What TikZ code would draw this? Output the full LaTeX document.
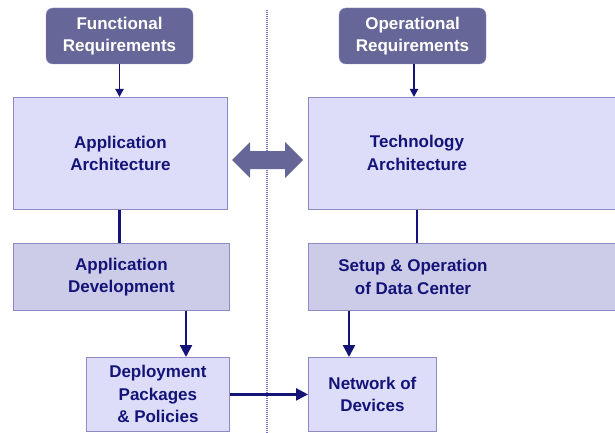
\documentclass[tikz,border=0pt]{standalone}
\usepackage{fontspec}
\setmainfont{Liberation Sans}
\usetikzlibrary{arrows.meta}
\definecolor{navy}{RGB}{20,20,120}
\definecolor{darkbox}{RGB}{102,102,153}
\definecolor{lightbox}{RGB}{221,221,250}
\definecolor{midbox}{RGB}{204,204,232}
\definecolor{boxline}{RGB}{140,140,195}

\begin{document}
\begin{tikzpicture}[x=1pt,y=-1pt,
    req/.style={rectangle, rounded corners=7pt, fill=darkbox, draw=boxline,
        minimum width=147pt, minimum height=56pt, text=white},
    lbox/.style={rectangle, fill=lightbox, draw=boxline, line width=0.8pt, inner sep=0pt},
    mbox/.style={rectangle, fill=midbox, draw=boxline, line width=0.8pt, inner sep=0pt},
    txt/.style={align=center, font=\bfseries\fontsize{17}{22.5}\selectfont, text=navy},
    arr/.style={draw=navy, line width=2.4pt, -{Triangle[width=12pt,length=12pt]}},
    thinarr/.style={draw=navy, line width=1.8pt, -{Triangle[width=8pt,length=8pt]}}]
    \useasboundingbox (0,0) rectangle (615,433);
    % divider
    \draw[boxline!80!navy, line width=1.2pt, dash pattern=on 1pt off 1pt] (267,10) -- (267,433);
    % requirements
    \node[req, txt, text=white] (freq) at (119.5,36) {Functional\\Requirements};
    \node[req, txt, text=white] (oreq) at (412.5,36) {Operational\\Requirements};
    % architecture
    \node[lbox, minimum width=214pt, minimum height=112pt, anchor=north west] (apparch) at (13,97) {};
    \node[txt] (apptxt) at (apparch.center) {Application\\Architecture};
    \node[lbox, minimum width=312pt, minimum height=112pt, anchor=north west] (techarch) at (308,97) {};
    \node[txt] (techtxt) at (417,153) {Technology\\Architecture};
    % both-ways arrow between the architectures
    \fill[darkbox] (232,160) -- (250,142) -- (250,151) -- (285,151) -- (285,142) -- (303,160)
        -- (285,178) -- (285,169) -- (250,169) -- (250,178) -- cycle;
    % development / operation
    \node[mbox, minimum width=216pt, minimum height=67pt, anchor=north west] (appdev) at (13,243) {};
    \node[txt] (devtxt) at (appdev.center) {Application\\Development};
    \node[mbox, minimum width=312pt, minimum height=67pt, anchor=north west] (setup) at (308,243) {};
    \node[txt] (setuptxt) at (413,277) {Setup \& Operation\\of Data Center};
    % deployment
    \node[lbox, minimum width=143pt, minimum height=74pt, anchor=north west] (deploy) at (86,357) {};
    \node[txt] (deptxt) at (deploy.center) {Deployment\\Packages\\\& Policies};
    \node[lbox, minimum width=128pt, minimum height=74pt, anchor=north west] (network) at (308,357) {};
    \node[txt] (nettxt) at (network.center) {Network of\\Devices};
    % connectors
    \coordinate (dn) at (186,357);
    \coordinate (nn) at (349,357);
    \draw[thinarr] (freq) -- (freq |- apparch.north);
    \draw[thinarr] (oreq.south) ++(1.5,0) coordinate (os) -- (os |- techarch.north);
    \draw[navy, line width=2.4pt] (apparch.south -| freq) -- (appdev.north -| freq);
    \draw[navy, line width=2.4pt] (techtxt |- techarch.south) -- (techtxt |- setup.north);
    \draw[arr] (dn |- appdev.south) -- (dn);
    \draw[arr] (nn |- setup.south) -- (nn);
    \draw[arr] (deploy.east) -- (network.west);
\end{tikzpicture}
\end{document}
